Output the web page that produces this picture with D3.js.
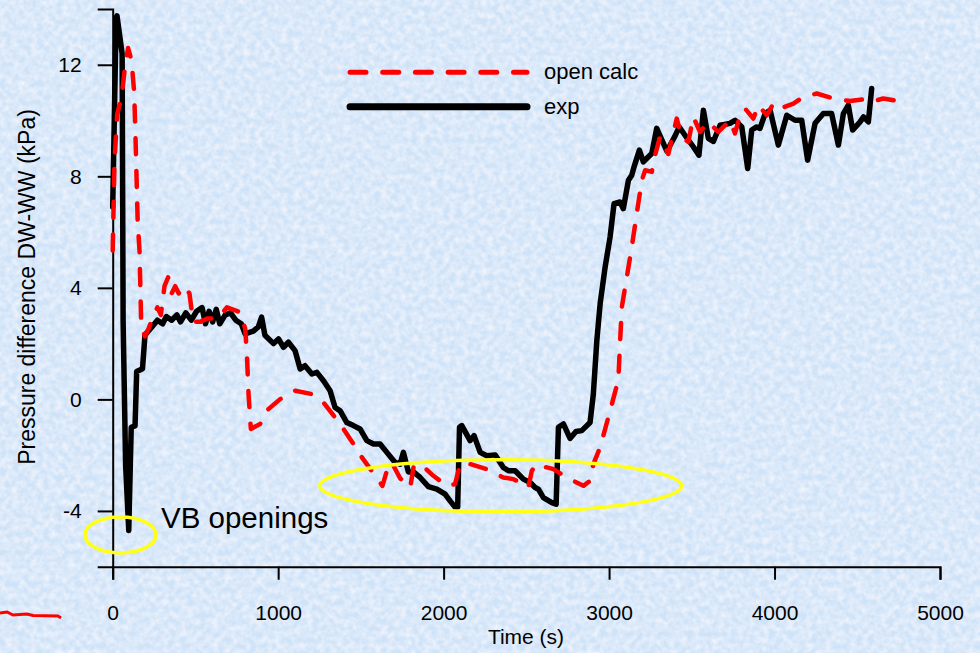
<!DOCTYPE html>
<html>
<head>
<meta charset="utf-8">
<script src="https://cdn.jsdelivr.net/npm/d3@7"></script>
<style>
  body { margin: 0; padding: 0; background: #d6e6f7; }
  svg { display: block; }
  text { font-family: "Liberation Sans", Arial, sans-serif; fill: #000; }
</style>
</head>
<body>
<div class="chart"></div>
<script>
// exp (black) - time (s) and pressure difference (kPa)
var expTime = [0, 21, 26, 57, 63, 78, 97, 112, 135, 145, 180, 195, 215, 237, 270, 302, 324, 356, 388, 410, 442, 475, 507, 540, 561, 583, 604, 626, 647, 680, 712, 744, 777, 800, 850, 880, 900, 920, 972, 1002, 1032, 1062, 1102, 1133, 1162, 1204, 1234, 1274, 1314, 1344, 1375, 1415, 1455, 1495, 1536, 1576, 1616, 1657, 1707, 1737, 1757, 1787, 1818, 1858, 1908, 1959, 2009, 2039, 2069, 2085, 2096, 2110, 2160, 2184, 2221, 2261, 2311, 2361, 2392, 2432, 2482, 2523, 2553, 2573, 2603, 2654, 2680, 2694, 2724, 2764, 2800, 2835, 2885, 2905, 2926, 2946, 2976, 3006, 3030, 3066, 3086, 3117, 3137, 3151, 3183, 3207, 3258, 3288, 3349, 3399, 3424, 3465, 3509, 3543, 3570, 3600, 3630, 3671, 3731, 3761, 3802, 3838, 3862, 3892, 3912, 3943, 3973, 4023, 4074, 4124, 4164, 4200, 4245, 4295, 4345, 4386, 4416, 4446, 4472, 4517, 4538, 4567, 4587];
var expValue = [6.9, 13.7, 13.75, 12.4, 2.8, -2.35, -4.7, -1.0, -0.95, 1.0, 1.1, 2.3, 2.45, 2.6, 2.84, 2.71, 2.97, 2.84, 3.03, 2.78, 3.1, 2.84, 3.16, 3.29, 2.71, 3.16, 2.78, 3.23, 2.71, 3.03, 3.1, 2.84, 2.71, 2.35, 2.45, 2.6, 2.95, 2.3, 2.0, 2.17, 1.87, 2.05, 1.75, 1.09, 1.21, 0.91, 0.97, 0.67, 0.31, -0.29, -0.41, -0.83, -0.94, -1.06, -1.48, -1.6, -1.6, -1.9, -2.26, -2.32, -1.9, -2.6, -2.6, -2.8, -3.13, -3.22, -3.4, -3.64, -3.86, -3.86, -1.0, -0.94, -1.48, -1.3, -1.9, -2.02, -1.99, -2.44, -2.56, -2.56, -2.86, -2.98, -3.16, -3.22, -3.52, -3.7, -3.76, -1.0, -0.88, -1.4, -1.15, -1.12, -0.83, 0.2, 2.11, 3.43, 4.74, 5.82, 7.02, 7.08, 6.84, 7.86, 8.04, 8.34, 8.94, 8.52, 8.82, 9.72, 8.9, 9.45, 9.77, 9.42, 9.06, 8.76, 10.37, 9.36, 9.25, 9.83, 9.9, 10.01, 9.77, 8.28, 9.66, 9.77, 9.72, 10.25, 10.37, 9.12, 10.19, 10.01, 10.01, 8.58, 9.9, 10.25, 10.25, 9.12, 10.25, 10.55, 9.66, 9.95, 10.13, 9.95, 11.15];

// open calc (red dashed)
var calcTime = [0, 11, 27, 54, 76, 93, 114, 130, 140, 151, 162, 172, 194, 216, 248, 270, 291, 313, 335, 356, 378, 399, 431, 464, 486, 529, 571, 637, 690, 770, 801, 811, 821, 835, 891, 941, 1012, 1103, 1204, 1274, 1344, 1395, 1455, 1506, 1576, 1630, 1660, 1684, 1737, 1798, 1818, 1858, 1938, 2019, 2069, 2100, 2160, 2261, 2361, 2422, 2482, 2512, 2533, 2563, 2623, 2664, 2744, 2845, 2885, 2905, 2946, 3006, 3056, 3066, 3077, 3107, 3137, 3167, 3198, 3218, 3258, 3278, 3308, 3358, 3409, 3439, 3479, 3509, 3550, 3600, 3660, 3731, 3761, 3792, 3822, 3872, 3902, 3953, 3993, 4033, 4114, 4174, 4255, 4355, 4456, 4537, 4587, 4657, 4748];
var calcValue = [5.34, 8.55, 10.22, 10.86, 12.0, 12.6, 12.15, 11.0, 8.94, 6.37, 5.34, 2.78, 2.26, 2.52, 3.03, 3.3, 3.03, 4.06, 4.38, 3.8, 4.06, 3.8, 4.06, 3.8, 2.78, 2.78, 2.9, 2.9, 3.3, 3.13, 2.53, 1.63, 0.19, -1.06, -0.88, -0.35, 0.01, 0.31, 0.19, -0.11, -0.65, -1.06, -1.6, -2.08, -2.65, -3.1, -2.5, -2.23, -2.83, -3.16, -2.44, -2.3, -2.74, -3.1, -3.04, -2.32, -2.32, -2.5, -2.8, -2.86, -3.04, -3.16, -2.56, -2.32, -2.44, -2.5, -2.8, -3.1, -2.92, -2.32, -1.72, -0.41, 0.7, 1.99, 3.31, 4.38, 5.46, 6.66, 7.86, 8.22, 8.16, 8.76, 9.41, 8.8, 10.07, 9.41, 9.23, 10.13, 9.59, 9.95, 9.59, 10.01, 9.54, 10.19, 10.43, 10.07, 10.55, 10.19, 10.61, 10.43, 10.61, 10.85, 10.97, 10.79, 10.7, 10.76, 10.67, 10.79, 10.7];

var xMajorTicks = [0, 1000, 2000, 3000, 4000, 5000];
var xMinorTicks = [500, 1500, 2500, 3500, 4500];
var yMajorTicks = [-4, 0, 4, 8, 12];
var yMinorTicks = [-6, -2, 2, 6, 10, 14];

var seriesNames = ["open calc", "exp"];

// annotation ellipses, centre in data units
var ovalTime = [47, 2345];
var ovalValue = [-4.86, -3.1];
var ovalRx = [35.5, 181];
var ovalRy = [18, 26];

var svgWidth = 980;
var svgHeight = 653;

var svg = d3.select(".chart")
  .append("svg")
  .attr("width", svgWidth)
  .attr("height", svgHeight);

// textured light blue background
var defs = svg.append("defs");
var filt = defs.append("filter")
  .attr("id", "tex")
  .attr("x", 0).attr("y", 0).attr("width", "100%").attr("height", "100%");
filt.append("feTurbulence")
  .attr("type", "fractalNoise")
  .attr("baseFrequency", "0.16")
  .attr("numOctaves", 2)
  .attr("seed", 7);
filt.append("feColorMatrix")
  .attr("type", "matrix")
  .attr("values", "0 0 0 0 0.96  0 0 0 0 0.95  0 0 0 0 0.99  1.8 0 0 0 -0.55");

svg.append("rect")
  .attr("width", svgWidth).attr("height", svgHeight)
  .attr("fill", "#cfe3f8");
svg.append("rect")
  .attr("width", svgWidth).attr("height", svgHeight)
  .attr("filter", "url(#tex)")
  .attr("opacity", 0.75);

var x = d3.scaleLinear().domain([0, 5000]).range([112.7, 940]);
var y = d3.scaleLinear().domain([-6, 14]).range([566.7, 9]);

// axes
var xAxisG = svg.append("g").attr("transform", "translate(0,566.7)");
xAxisG.call(d3.axisBottom(x).tickValues(xMinorTicks).tickSize(7).tickFormat(""));
xAxisG.call(d3.axisBottom(x).tickValues(xMajorTicks).tickSize(13).tickPadding(25).tickFormat(d => String(d)));

var yAxisG = svg.append("g").attr("transform", "translate(112.7,0)");
yAxisG.call(d3.axisLeft(y).tickValues(yMinorTicks).tickSize(7).tickFormat(""));
yAxisG.call(d3.axisLeft(y).tickValues(yMajorTicks).tickSize(15).tickPadding(16).tickFormat(d => String(d)));

svg.selectAll(".domain").attr("stroke", "#000").attr("stroke-width", 2);
svg.selectAll(".tick line").attr("stroke", "#000").attr("stroke-width", 2);
svg.selectAll(".tick text")
  .attr("font-size", 21)
  .attr("font-family", "Liberation Sans, Arial, sans-serif")
  .attr("fill", "#000");

// axis titles
svg.append("text")
  .attr("x", 526)
  .attr("y", 644)
  .attr("text-anchor", "middle")
  .attr("font-size", 21)
  .text("Time (s)");

svg.append("text")
  .attr("transform", "translate(35,287) rotate(-90)")
  .attr("text-anchor", "middle")
  .attr("font-size", 23)
  .text("Pressure difference DW-WW (kPa)");

// lines
var expData = expTime.map(function(t, i) { return [t, expValue[i]]; });
var calcData = calcTime.map(function(t, i) { return [t, calcValue[i]]; });

var line = d3.line()
  .x(d => x(d[0]))
  .y(d => y(d[1]));

svg.append("path")
  .datum(expData)
  .attr("d", line)
  .attr("fill", "none")
  .attr("stroke", "#000")
  .attr("stroke-width", 5.5)
  .attr("stroke-linejoin", "round")
  .attr("stroke-linecap", "round");

svg.append("path")
  .datum(calcData)
  .attr("d", line)
  .attr("fill", "none")
  .attr("stroke", "#ff0000")
  .attr("stroke-width", 4.5)
  .attr("stroke-dasharray", "16,16.7")
  .attr("stroke-linejoin", "round")
  .attr("stroke-linecap", "round");

// yellow ovals
ovalTime.forEach(function(t, i) {
  svg.append("ellipse")
    .attr("cx", x(t))
    .attr("cy", y(ovalValue[i]))
    .attr("rx", ovalRx[i])
    .attr("ry", ovalRy[i])
    .attr("fill", "none")
    .attr("stroke", "#ffff1a")
    .attr("stroke-width", 3.5);
});

svg.append("text")
  .attr("x", 161)
  .attr("y", 528)
  .attr("font-size", 29.5)
  .text("VB openings");

// legend
var legend = svg.append("g").attr("transform", "translate(350,72.3)");
legend.append("line")
  .attr("x1", 0).attr("x2", 177).attr("y1", 0).attr("y2", 0)
  .attr("stroke", "#ff0000").attr("stroke-width", 5)
  .attr("stroke-dasharray", "16,16.7").attr("stroke-linecap", "round");
legend.append("line")
  .attr("x1", 0).attr("x2", 177).attr("y1", 34.4).attr("y2", 34.4)
  .attr("stroke", "#000").attr("stroke-width", 7)
  .attr("stroke-linecap", "round");
legend.selectAll("text.lg")
  .data(seriesNames)
  .enter()
  .append("text")
  .attr("class", "lg")
  .attr("x", 194)
  .attr("y", (d, i) => 7 + i * 34.4)
  .attr("font-size", 22)
  .text(d => d);

// stray red stroke at lower left
svg.append("path")
  .attr("d", "M0,613 L7,612 L13,615 L27,614 L33,615.5 L58,616 L61,618")
  .attr("fill", "none")
  .attr("stroke", "#ff0000")
  .attr("stroke-width", 3);
</script>
</body>
</html>
